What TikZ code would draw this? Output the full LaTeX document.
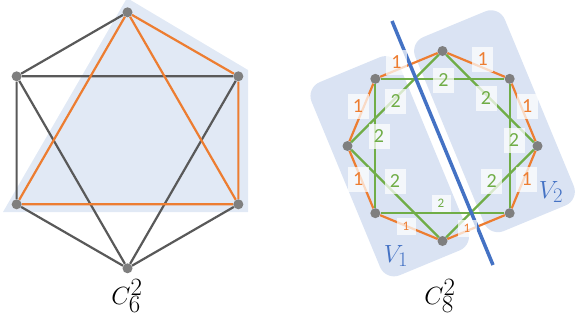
\documentclass[tikz,border=0pt]{standalone}
\usepackage{fontspec}
\setmainfont{Carlito}
\usetikzlibrary{calc}
\definecolor{edgeOrange}{HTML}{ED7D31}
\definecolor{edgeGreen}{HTML}{70AD47}
\definecolor{edgeDark}{HTML}{595959}
\definecolor{vertexGray}{HTML}{7F7F7F}
\definecolor{cutBlue}{HTML}{4472C4}
\definecolor{partFill}{HTML}{DAE3F3}

\begin{document}
\begin{tikzpicture}[
  x=1pt, y=-1pt,
  vertex/.style={circle, fill=vertexGray, minimum size=10pt, inner sep=0pt},
  edge/.style={line width=2.2pt},
  plain/.style={edge, draw=edgeDark},
  ring/.style={edge, draw=edgeOrange},
  chord/.style={edge, draw=edgeGreen},
  cut/.style={draw=cutBlue, line width=3.5pt},
  part/.style={fill=partFill, rounded corners=15pt},
  weight/.style={
    fill=white,
    fill opacity=0.72,
    text opacity=1,
    inner sep=0pt,
    minimum width=21pt,
    minimum height=25pt,
    font=\fontsize{20}{20}\selectfont
  },
  small/.style={minimum width=19pt, minimum height=17pt, font=\fontsize{13}{13}\selectfont},
  ring weight/.style={weight, text=edgeOrange},
  chord weight/.style={weight, text=edgeGreen},
  title/.style={font=\fontsize{38}{38}\selectfont},
  setname/.style={text=cutBlue, font=\fontsize{30}{30}\selectfont}
]
\useasboundingbox (0,0) rectangle (580,322);

% C_6^2
\coordinate (hex-c) at (127.5,140.3);
\fill[partFill!80] (127,-2) -- (248,70) -- (248,212) -- (3,212) -- cycle;
\foreach \i in {0,...,5}
  \node[vertex] (h\i) at ($(hex-c)+(\i*60-90:128)$) {};

\draw[plain] (h0) -- (h5) -- (h4) -- (h3) -- (h2);
\draw[plain] (h5) -- (h1) -- (h3) -- (h5);
\draw[ring] (h0) -- (h1) -- (h2) -- (h4) -- (h0) -- (h2);

\node[title] (hex-name) at (127,296) {$C_6^2$};

% C_8^2
\coordinate (oct-c) at (442.5,146);
\begin{scope}[shift={(oct-c)}, rotate=22.5]
  \fill[part] (-104,-106) rectangle (-9,103);
  \fill[part] (9,-108) rectangle (106,102);
\end{scope}
\foreach \i in {0,...,7}
  \node[vertex] (o\i) at ($(oct-c)+(\i*45:95)$) {};

\draw[ring] (o0) -- (o1) -- (o2) -- (o3) -- (o4) -- (o5) -- (o6) -- (o7) -- (o0);
\draw[chord] (o1) -- (o3) -- (o5) -- (o7) -- (o1);
\draw[chord] (o0) -- (o2) -- (o4) -- (o6) -- (o0);

\coordinate (cut-top) at (392,21);
\coordinate (cut-bot) at (493,265);
\draw[cut] (cut-top) -- (cut-bot);

% weights
\node[ring weight] (w-65) at (396.5,62.5) {1};
\node[ring weight] (w-67) at (482.7,59.5) {1};
\node[ring weight] (w-54) at (358,106.5) {1};
\node[ring weight] (w-70) at (527.3,106) {1};
\node[ring weight] (w-43) at (358.3,179.3) {1};
\node[ring weight] (w-01) at (526.7,179.3) {1};
\node[ring weight, small] (w-32) at (406,226) {1};
\node[ring weight, small] (w-21) at (467,228.3) {1};

\node[chord weight] (w-57) at (443.5,80) {2};
\node[chord weight] (w-46) at (395.7,101) {2};
\node[chord weight] (w-60) at (486,98.5) {2};
\node[chord weight] (w-53) at (379,136.5) {2};
\node[chord weight] (w-71) at (514,140) {2};
\node[chord weight] (w-42) at (395,181.5) {2};
\node[chord weight] (w-20) at (491.7,181.5) {2};
\node[chord weight, small] (w-31) at (441,203.3) {2};

\node[setname] (v-one) at (396,256) {$V_1$};
\node[setname] (v-two) at (551,192) {$V_2$};
\node[title] (oct-name) at (440,296) {$C_8^2$};

\end{tikzpicture}
\end{document}
